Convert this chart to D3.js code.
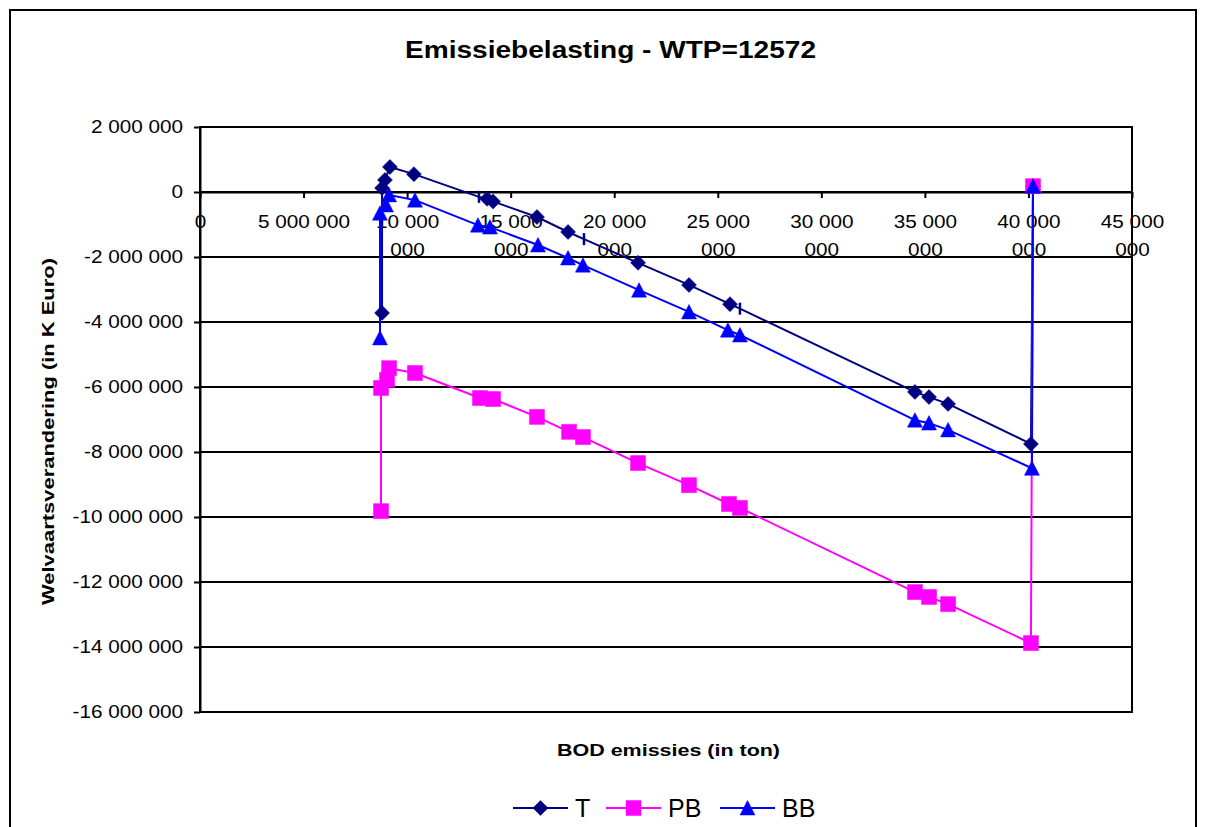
<!DOCTYPE html>
<html><head><meta charset="utf-8">
<script src="https://cdn.jsdelivr.net/npm/d3@7"></script>
<style>
body{margin:0;background:#fff}
svg{display:block}
text{font-family:"Liberation Sans",Arial,sans-serif;fill:#000}
</style>
</head><body>
<svg id="c" width="1206" height="827"></svg>
<script>
// ---------- data ----------
const chartTitle = "Emissiebelasting - WTP=12572";
const xTitle = "BOD emissies (in ton)";
const yTitle = "Welvaartsverandering (in K Euro)";
const seriesNames = ["T", "PB", "BB"];

const xTickValues = [0, 5e6, 10e6, 15e6, 20e6, 25e6, 30e6, 35e6, 40e6, 45e6];
const yTickValues = [2e6, 0, -2e6, -4e6, -6e6, -8e6, -10e6, -12e6, -14e6, -16e6];

// T (x, y in units; marker kind per point)
const tX = [8.79e6, 8.79e6, 8.93e6, 9.17e6, 10.33e6, 13.47e6, 13.86e6, 14.15e6, 16.27e6, 17.77e6,
            18.54e6, 21.15e6, 23.61e6, 25.59e6, 26.07e6, 34.52e6, 35.20e6, 36.12e6, 40.12e6, 40.22e6];
const tY = [-3.72e6, 0.12e6, 0.37e6, 0.77e6, 0.55e6, -0.15e6, -0.21e6, -0.29e6, -0.77e6, -1.23e6,
            -1.45e6, -2.18e6, -2.86e6, -3.45e6, -3.59e6, -6.15e6, -6.31e6, -6.52e6, -7.75e6, 0.18e6];
const tMarker = ["d","d","d","d","d","dash","d","d","d","d",
                 "dash","d","d","d","dash","d","d","d","d","d"];

// PB
const pbX = [8.74e6, 8.74e6, 9.03e6, 9.13e6, 10.38e6, 13.52e6, 14.15e6, 16.27e6, 17.82e6, 18.49e6,
             21.15e6, 23.61e6, 25.54e6, 26.07e6, 34.52e6, 35.20e6, 36.12e6, 40.12e6, 40.22e6];
const pbY = [-9.82e6, -6.03e6, -5.78e6, -5.42e6, -5.57e6, -6.34e6, -6.37e6, -6.92e6, -7.38e6, -7.54e6,
             -8.34e6, -9.02e6, -9.60e6, -9.72e6, -12.31e6, -12.46e6, -12.68e6, -13.88e6, 0.18e6];

// BB
const bbX = [8.69e6, 8.69e6, 8.98e6, 9.13e6, 10.38e6, 13.42e6, 14.00e6, 16.32e6, 17.77e6, 18.49e6,
             21.20e6, 23.61e6, 25.49e6, 26.07e6, 34.52e6, 35.20e6, 36.12e6, 40.17e6, 40.22e6];
const bbY = [-4.49e6, -0.65e6, -0.40e6, -0.09e6, -0.25e6, -1.02e6, -1.08e6, -1.63e6, -2.03e6, -2.25e6,
             -3.02e6, -3.69e6, -4.25e6, -4.40e6, -7.02e6, -7.11e6, -7.32e6, -8.50e6, 0.18e6];

// ---------- chart ----------
const svg = d3.select("#c");
const L = 200, R = 1132, T = 127, B = 712;
const x = d3.scaleLinear().domain([0, 45e6]).range([L, R]);
const y = d3.scaleLinear().domain([-16e6, 2e6]).range([B, T]);

const loc = d3.formatLocale({decimal: ",", thousands: " ", grouping: [3], currency: ["", ""], minus: "-"});
const fmt = loc.format(",d");

const colors = {T: "#000080", PB: "#FF00FF", BB: "#0000FF"};

// outer border
svg.append("rect").attr("x", 10).attr("y", 10).attr("width", 1186).attr("height", 840)
  .attr("fill", "#fff").attr("stroke", "#000").attr("stroke-width", 2);

// gridlines
svg.append("g").selectAll("line").data(yTickValues).join("line")
  .attr("x1", L).attr("x2", R).attr("y1", d => y(d)).attr("y2", d => y(d))
  .attr("stroke", "#000").attr("stroke-width", 2);
// plot border
svg.append("rect").attr("x", L).attr("y", T).attr("width", R - L).attr("height", B - T)
  .attr("fill", "none").attr("stroke", "#000").attr("stroke-width", 2);

function stretch(sel, f) {
  sel.each(function () {
    const len = this.getComputedTextLength();
    d3.select(this).attr("textLength", len * f).attr("lengthAdjust", "spacingAndGlyphs");
  });
}

// y axis
const gy = svg.append("g").attr("transform", `translate(${L},0)`)
  .call(d3.axisLeft(y).tickValues(yTickValues).tickFormat(fmt).tickSize(6).tickSizeOuter(0).tickPadding(11));
gy.select(".domain").attr("stroke", "#000").attr("stroke-width", 2);
gy.selectAll(".tick line").attr("stroke", "#000").attr("stroke-width", 2);
gy.selectAll(".tick text").attr("font-size", 18).attr("font-family", '"Liberation Sans",Arial,sans-serif');
stretch(gy.selectAll(".tick text"), 1.15);

// x axis (at y = 0)
const gx = svg.append("g").attr("transform", `translate(0,${y(0)})`)
  .call(d3.axisBottom(x).tickValues(xTickValues).tickFormat(fmt).tickSize(6).tickSizeOuter(0));
gx.select(".domain").attr("stroke", "#000").attr("stroke-width", 2);
gx.selectAll(".tick line").attr("stroke", "#000").attr("stroke-width", 2);
gx.selectAll(".tick text").each(function () {
  const t = d3.select(this);
  const s = t.text();
  t.attr("font-size", 18).attr("font-family", '"Liberation Sans",Arial,sans-serif')
   .attr("dy", null).attr("y", 36);
  if (s.length > 9) {
    const i = s.lastIndexOf(" ");
    t.text(s.slice(0, i));
    d3.select(this.parentNode).append("text")
      .attr("class", "l2").attr("fill", "#000").attr("text-anchor", "middle")
      .attr("font-size", 18).attr("font-family", '"Liberation Sans",Arial,sans-serif')
      .attr("y", 64).text(s.slice(i + 1));
  }
});
stretch(gx.selectAll(".tick text"), 1.15);

// series
const series = [
  {name: "T", pts: tX.map((v, i) => ({x: v, y: tY[i], m: tMarker[i]}))},
  {name: "PB", pts: pbX.map((v, i) => ({x: v, y: pbY[i], m: "s"}))},
  {name: "BB", pts: bbX.map((v, i) => ({x: v, y: bbY[i], m: "t"}))}
];
const line = d3.line().x(d => x(d.x)).y(d => y(d.y));

const diamond = "M0,-7.5L7.5,0L0,7.5L-7.5,0Z";
const square = "M-7.5,-7.5H7.5V7.5H-7.5Z";
const triangle = "M0,-7.5L7.5,7L-7.5,7Z";
function markerPath(m) {
  if (m === "d") return diamond;
  if (m === "s") return square;
  if (m === "t") return triangle;
  return null;
}

// lines first
series.forEach(s => {
  svg.append("path").datum(s.pts).attr("d", line).attr("fill", "none")
    .attr("stroke", colors[s.name]).attr("stroke-width", 2).attr("stroke-linejoin", "round");
});
// markers
series.forEach(s => {
  const g = svg.append("g");
  g.selectAll("path").data(s.pts).join("path")
    .attr("transform", d => `translate(${x(d.x)},${y(d.y)})`)
    .attr("d", d => d.m === "dash" ? "M0,-6V6" : markerPath(d.m))
    .attr("fill", d => d.m === "dash" ? "none" : colors[s.name])
    .attr("stroke", colors[s.name])
    .attr("stroke-width", d => d.m === "dash" ? 2.5 : 0.5);
});

// titles
svg.append("text").attr("x", 610.5).attr("y", 58).attr("text-anchor", "middle")
  .attr("font-size", 23).attr("font-weight", "bold").text(chartTitle)
  .attr("textLength", 411).attr("lengthAdjust", "spacingAndGlyphs");
svg.append("text").attr("x", 668.5).attr("y", 756).attr("text-anchor", "middle")
  .attr("font-size", 16).attr("font-weight", "bold").text(xTitle)
  .attr("textLength", 223).attr("lengthAdjust", "spacingAndGlyphs");
svg.append("text").attr("transform", "translate(54,431.5) rotate(-90)").attr("text-anchor", "middle")
  .attr("font-size", 16.5).attr("font-weight", "bold").text(yTitle)
  .attr("textLength", 347).attr("lengthAdjust", "spacingAndGlyphs");

// legend
const legendX = [513, 606, 720];
const legendMarks = ["d", "s", "t"];
seriesNames.forEach((n, i) => {
  const lx = legendX[i], ly = 808;
  svg.append("line").attr("x1", lx).attr("x2", lx + 55).attr("y1", ly).attr("y2", ly)
    .attr("stroke", colors[n]).attr("stroke-width", 2);
  svg.append("path").attr("transform", `translate(${lx + 27.5},${ly})`).attr("d", markerPath(legendMarks[i]))
    .attr("fill", colors[n]).attr("stroke", colors[n]).attr("stroke-width", 0.5);
  svg.append("text").attr("x", lx + 62).attr("y", 817).attr("font-size", 25).text(n);
});
</script>
</body></html>
